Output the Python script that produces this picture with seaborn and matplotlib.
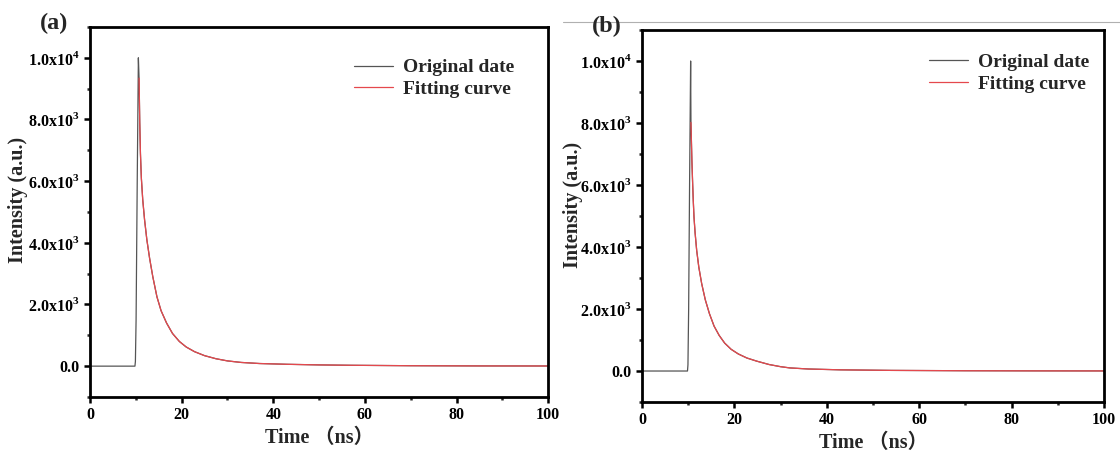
import numpy as np
import pandas as pd
import matplotlib
matplotlib.use("Agg")
import matplotlib.pyplot as plt
from matplotlib.lines import Line2D
from matplotlib.ticker import FixedLocator, FixedFormatter, MultipleLocator
import seaborn as sns

# ---------------- data ----------------
# Panel (a)
a_orig_time = [0, 5, 9.8, 9.9, 10.05, 10.3, 10.55, 10.7, 10.85, 11.0, 11.2, 11.5, 11.9,
               12.4, 13.0, 13.7, 14.6, 15.5, 16.7, 18.0, 19.5, 21.0, 22.8, 25.0, 27.5,
               30.0, 33.0, 37.0, 43.0, 50.0, 57.0, 70, 85, 100]
a_orig_int = [0, 0, 0, 150, 1500, 6000, 10000, 9340, 7900, 6900, 6100, 5400, 4750,
              4100, 3500, 2900, 2250, 1800, 1400, 1060, 800, 620, 470, 340, 240,
              170, 120, 85, 60, 40, 28, 14, 7, 5]
a_fit_time = [10.7, 10.85, 11.0, 11.2, 11.5, 11.9, 12.4, 13.0, 13.7, 14.6, 15.5, 16.7,
              18.0, 19.5, 21.0, 22.8, 25.0, 27.5, 30.0, 33.0, 37.0, 43.0, 50.0, 57.0,
              70, 85, 100]
a_fit_int = [9340, 7900, 6900, 6100, 5400, 4750, 4100, 3500, 2900, 2250, 1800, 1400,
             1060, 800, 620, 470, 340, 240, 170, 120, 85, 60, 40, 28,
             14, 7, 5]

# Panel (b)
b_orig_time = [0, 5, 9.85, 9.95, 10.1, 10.3, 10.53, 10.6, 10.8, 10.97, 11.1, 11.26, 11.5,
               11.84, 12.3, 12.92, 13.7, 14.6, 15.6, 16.7, 17.9, 19.3, 20.85, 22.7, 24.8,
               27.5, 30.0, 32.0, 36.0, 43.0, 54.0, 70, 85, 100]
b_orig_int = [0, 0, 0, 200, 2000, 6000, 10000, 8020, 6800, 6030, 5500, 4960, 4450,
              3890, 3350, 2820, 2300, 1850, 1450, 1150, 900, 700, 550, 420, 320,
              210, 140, 100, 65, 38, 20, 9, 5, 3]
b_fit_time = [10.6, 10.8, 10.97, 11.1, 11.26, 11.5, 11.84, 12.3, 12.92, 13.7, 14.6, 15.6,
              16.7, 17.9, 19.3, 20.85, 22.7, 24.8, 27.5, 30.0, 32.0, 36.0, 43.0, 54.0,
              70, 85, 100]
b_fit_int = [8020, 6800, 6030, 5500, 4960, 4450, 3890, 3350, 2820, 2300, 1850, 1450,
             1150, 900, 700, 550, 420, 320, 210, 140, 100, 65, 38, 20,
             9, 5, 3]

series_names = ["Original date", "Fitting curve"]
panel_labels = ["(a)", "(b)"]
x_ticks = [0, 20, 40, 60, 80, 100]
x_ticklabels = ["0", "20", "40", "60", "80", "100"]
y_ticks = [0, 2000, 4000, 6000, 8000, 10000]
y_ticklabels = ["0.0", r"2.0x10$^{\mathbf{3}}$", r"4.0x10$^{\mathbf{3}}$",
                r"6.0x10$^{\mathbf{3}}$", r"8.0x10$^{\mathbf{3}}$", r"1.0x10$^{\mathbf{4}}$"]
x_label = "Time （ns）"
y_label = "Intensity (a.u.)"

# ---------------- style ----------------
sns.set_style("ticks")
plt.rcParams["font.family"] = ["Liberation Serif", "Noto Sans CJK SC", "DejaVu Sans"]
plt.rcParams["font.weight"] = "bold"
plt.rcParams["mathtext.fontset"] = "custom"
plt.rcParams["mathtext.bf"] = "Liberation Serif:bold"
plt.rcParams["mathtext.rm"] = "Liberation Serif:bold"

fig = plt.figure(figsize=(11.2, 4.54), dpi=100)
ax_a = fig.add_axes([0.0804, 0.1256, 0.409, 0.815])
ax_b = fig.add_axes([0.5732, 0.1145, 0.4125, 0.8194])

orig_color = "#555555"
fit_color = "#e5484d"

panels = [
    (ax_a, a_orig_time, a_orig_int, a_fit_time, a_fit_int, (0.576, 0.914), (-0.135, 0.532)),
    (ax_b, b_orig_time, b_orig_int, b_fit_time, b_fit_int, (0.621, 0.937), (-0.128, 0.53)),
]

for i, (ax, ot, oi, ft, fi, leg_anchor, ylab_pos) in enumerate(panels):
    df_o = pd.DataFrame({"t": ot, "I": oi})
    df_f = pd.DataFrame({"t": ft, "I": fi})
    sns.lineplot(data=df_o, x="t", y="I", ax=ax, color=orig_color, linewidth=0.9,
                 label=series_names[0], errorbar=None)
    sns.lineplot(data=df_f, x="t", y="I", ax=ax, color=fit_color, linewidth=0.9,
                 label=series_names[1], errorbar=None)
    ax.set_xlim(0, 100)
    ax.set_ylim(-1000, 11000)
    ax.xaxis.set_major_locator(FixedLocator(x_ticks))
    ax.xaxis.set_major_formatter(FixedFormatter(x_ticklabels))
    ax.xaxis.set_minor_locator(MultipleLocator(10))
    ax.yaxis.set_major_locator(FixedLocator(y_ticks))
    ax.yaxis.set_major_formatter(FixedFormatter(y_ticklabels))
    ax.yaxis.set_minor_locator(MultipleLocator(1000))
    for s in ax.spines.values():
        s.set_visible(True)
        s.set_linewidth(2.0)
        s.set_color("black")
    ax.tick_params(which="major", direction="out", length=4.5, width=1.8,
                   labelsize=11.5, colors="black", pad=3)
    ax.tick_params(which="minor", direction="out", length=2.5, width=1.8)
    for lab in ax.get_xticklabels() + ax.get_yticklabels():
        lab.set_fontweight("bold")
    ax.set_xlabel(x_label, fontsize=14.5, fontweight="bold", labelpad=3)
    ax.set_ylabel(y_label, fontsize=14.5, fontweight="bold")
    ax.yaxis.set_label_coords(*ylab_pos)
    leg = ax.legend(loc="upper left", bbox_to_anchor=leg_anchor, frameon=False,
                    prop={"weight": "bold", "size": 14}, handlelength=2.0,
                    handletextpad=0.55, labelspacing=0.22, borderpad=0,
                    borderaxespad=0)
    for h in leg.get_lines():
        h.set_linewidth(0.9)

fig.text(40 / 1120, 1 - 23 / 454, panel_labels[0], fontsize=17.5, fontweight="bold",
         ha="left", va="center")
fig.text(592 / 1120, 1 - 26 / 454, panel_labels[1], fontsize=17.5, fontweight="bold",
         ha="left", va="center")

fig.add_artist(Line2D([563 / 1120, 1.0], [1 - 22 / 454, 1 - 22 / 454],
                      transform=fig.transFigure, color="#b0b0b0", linewidth=0.8))

fig.savefig("out.png", dpi=100)
